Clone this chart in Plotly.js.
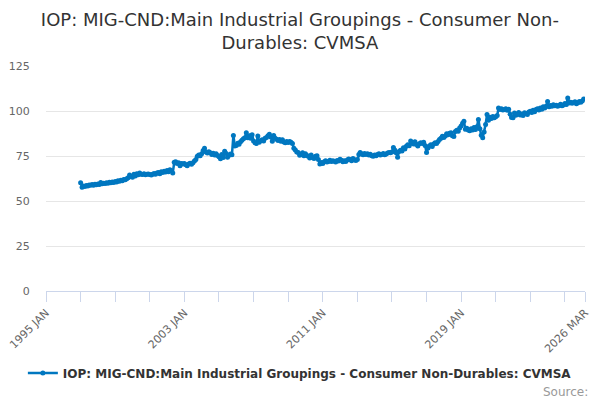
<!DOCTYPE html>
<html>
<head>
<meta charset="utf-8">
<script src="https://cdn.plot.ly/plotly-3.0.1.min.js"></script>
<style>
  html, body { margin: 0; padding: 0; background: #fff; }
  #chart { width: 600px; height: 400px; }
</style>
</head>
<body>
<div id="chart"></div>
<script>
// monthly index, starting 1997 JAN
const startYear = 1997;
const values = [
  60.2, 57.6, 58.3, 58.0, 58.6, 58.4, 58.9, 58.7, 59.1, 58.8, 59.3, 59.0, // 1997
  59.4, 59.2, 60.3, 59.6, 59.9, 59.7, 60.2, 59.8, 60.4, 60.1, 60.6, 60.3, // 1998
  60.9, 60.5, 61.2, 61.0, 61.5, 61.3, 62.0, 61.8, 62.4, 62.9, 64.4, 63.6, // 1999
  63.2, 64.8, 63.9, 65.2, 64.6, 65.5, 64.9, 64.7, 65.1, 64.6, 64.9, 65.0, // 2000
  64.7, 64.4, 64.9, 65.3, 64.8, 65.6, 65.9, 65.2, 66.3, 65.8, 66.5, 66.1, // 2001
  66.9, 66.3, 67.4, 66.8, 65.6, 71.5, 71.8, 70.9, 71.3, 69.6, 70.8, 70.5, // 2002
  70.9, 70.2, 69.6, 70.5, 71.0, 70.4, 71.3, 72.2, 73.1, 74.8, 75.5, 75.2, // 2003
  76.3, 78.1, 79.3, 77.2, 76.6, 77.4, 76.8, 75.9, 76.5, 75.6, 76.2, 75.3, // 2004
  74.6, 73.5, 75.8, 74.2, 77.6, 76.4, 74.3, 75.4, 76.1, 75.7, 86.4, 80.6, // 2005
  80.9, 82.1, 81.5, 82.9, 83.8, 84.6, 85.2, 87.9, 85.2, 86.3, 84.9, 86.8, // 2006
  83.4, 82.4, 81.9, 86.1, 82.6, 83.5, 84.0, 83.3, 84.8, 85.3, 86.2, 87.1, // 2007
  85.6, 83.2, 86.4, 84.9, 84.3, 83.6, 84.1, 83.2, 84.0, 82.8, 82.4, 83.1, // 2008
  82.5, 83.0, 82.7, 81.9, 79.3, 78.4, 77.2, 76.9, 75.4, 75.9, 76.8, 75.1, // 2009
  76.2, 75.3, 74.8, 73.9, 75.6, 74.1, 73.6, 74.8, 75.2, 73.1, 70.6, 71.4, // 2010
  70.9, 71.8, 72.3, 71.6, 72.0, 72.6, 71.9, 72.4, 72.1, 71.7, 72.5, 72.2, // 2011
  73.2, 72.6, 71.8, 72.3, 72.0, 72.8, 73.4, 73.0, 72.4, 73.6, 72.9, 72.5, // 2012
  73.1, 75.8, 76.9, 76.2, 75.7, 76.4, 75.9, 76.3, 75.6, 76.0, 75.2, 74.9, // 2013
  75.5, 75.1, 75.8, 76.2, 75.6, 75.9, 76.4, 75.7, 76.1, 76.6, 77.0, 76.8, // 2014
  77.2, 79.7, 78.3, 76.8, 74.3, 77.5, 78.2, 77.8, 79.6, 78.9, 80.4, 81.2, // 2015
  80.7, 83.3, 82.1, 81.6, 82.9, 81.4, 80.6, 81.8, 82.4, 81.9, 82.6, 80.8, // 2016
  76.9, 79.4, 80.6, 81.2, 80.3, 81.7, 82.4, 82.0, 83.1, 84.2, 84.9, 86.0, // 2017
  85.3, 86.1, 87.4, 86.8, 87.6, 87.9, 86.2, 85.9, 88.6, 89.3, 88.8, 90.5, // 2018
  91.6, 93.2, 94.3, 89.8, 90.4, 89.5, 89.0, 90.1, 89.4, 90.8, 89.7, 91.3, // 2019
  95.3, 90.2, 86.5, 85.2, 88.3, 92.5, 98.0, 94.9, 96.5, 95.8, 96.9, 96.2, // 2020
  96.8, 97.5, 101.7, 100.9, 101.2, 100.6, 100.8, 101.3, 100.4, 101.0, 98.2, 96.4, // 2021
  96.2, 98.9, 97.6, 98.4, 99.1, 97.8, 98.3, 97.5, 99.0, 98.6, 98.1, 99.4, // 2022
  99.9, 99.2, 100.4, 99.6, 100.8, 101.3, 100.5, 101.7, 101.0, 102.3, 101.6, 102.6, // 2023
  105.3, 102.4, 103.1, 102.7, 103.5, 102.9, 103.2, 102.6, 103.0, 103.8, 102.9, 103.4, // 2024
  104.1, 103.6, 107.2, 104.5, 104.9, 104.3, 104.7, 105.2, 104.0, 104.6, 105.3, 104.8, // 2025
  105.6, 106.6 // 2026
];

const tickDates = ['1995-01-01', '1997-01-01', '1999-01-01', '2001-01-01', '2003-01-01',
  '2005-01-01', '2007-01-01', '2009-01-01', '2011-01-01', '2013-01-01', '2015-01-01',
  '2017-01-01', '2019-01-01', '2021-01-01', '2023-01-01', '2025-01-01', '2026-03-01'];
const tickLabels = ['1995 JAN', '', '', '', '2003 JAN', '', '', '', '2011 JAN', '',
  '', '', '2019 JAN', '', '', '', '2026 MAR'];
const yTicks = [0, 25, 50, 75, 100, 125];

const seriesName = 'IOP: MIG-CND:Main Industrial Groupings - Consumer Non-Durables: CVMSA';

let dates = [];
for (let i = 0; i < values.length; i++) {
  let y = startYear + Math.floor(i / 12);
  let m = (i % 12) + 1;
  dates.push(y + '-' + String(m).padStart(2, '0') + '-01');
}

const blue = '#0077c0';

let trace = {
  x: dates,
  y: values,
  name: seriesName,
  type: 'scatter',
  mode: 'lines+markers',
  line: { color: blue, width: 2.5 },
  marker: { color: blue, size: 5 }
};

let layout = {
  width: 600,
  height: 400,
  margin: { l: 46, r: 15, t: 66, b: 107 },
  paper_bgcolor: '#fff',
  plot_bgcolor: '#fff',
  font: { family: 'DejaVu Sans, sans-serif', color: '#666' },
  title: {
    text: 'IOP: MIG-CND:Main Industrial Groupings - Consumer Non-<br>Durables: CVMSA',
    font: { size: 18, color: '#333' },
    xref: 'paper',
    x: 0.471,
    xanchor: 'center',
    yref: 'container',
    y: 0.935,
    yanchor: 'top'
  },
  xaxis: {
    type: 'date',
    range: ['1995-01-01', '2026-03-01'],
    tickmode: 'array',
    tickvals: tickDates,
    ticktext: tickLabels,
    tickangle: -45,
    ticks: 'outside',
    ticklen: 10,
    tickcolor: '#ccd6eb',
    tickfont: { size: 11, color: '#666' },
    showgrid: false,
    showline: true,
    linecolor: '#ccd6eb',
    linewidth: 1,
    zeroline: false,
    automargin: false
  },
  yaxis: {
    range: [0, 125],
    tickmode: 'array',
    tickvals: yTicks,
    ticks: 'outside',
    ticklen: 13,
    tickcolor: 'rgba(0,0,0,0)',
    tickfont: { size: 11, color: '#666' },
    showgrid: true,
    gridcolor: '#e6e6e6',
    zeroline: false,
    showline: false,
    automargin: false
  },
  showlegend: true,
  legend: {
    orientation: 'h',
    x: 0.471,
    xanchor: 'center',
    y: -0.3,
    yanchor: 'top',
    itemwidth: 30,
    font: { size: 12, color: '#333', weight: 'bold' }
  },
  annotations: [{
    text: 'Source:',
    xref: 'paper',
    yref: 'paper',
    x: 1.01,
    xanchor: 'right',
    y: -0.41,
    yanchor: 'top',
    showarrow: false,
    font: { size: 12, color: '#999' }
  }]
};

Plotly.newPlot('chart', [trace], layout, { displayModeBar: false, staticPlot: true });
</script>
</body>
</html>
